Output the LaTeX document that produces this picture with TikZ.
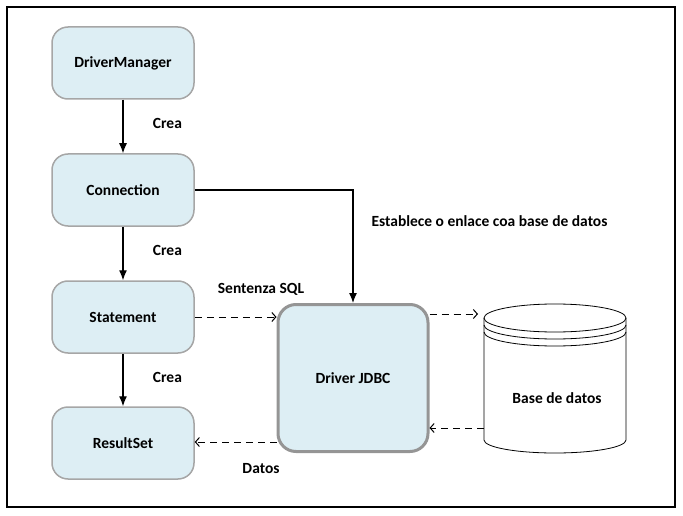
\documentclass[tikz,border=0pt]{standalone}
\usepackage{fontspec}
\setmainfont{Carlito}
\usetikzlibrary{shapes,arrows,arrows.meta}
\usetikzlibrary{positioning}
\definecolor{boxfill}{HTML}{DDEEF4}
\definecolor{boxline}{HTML}{A6A6A6}
\tikzset{
	>=latex,
	classbox/.style={draw=boxline, line width=1.5pt, fill=boxfill, rounded corners=16pt, minimum width=142pt, minimum height=72pt, font=\bfseries\fontsize{15.5}{18}\selectfont},
	driverbox/.style={draw=boxline!90!black, line width=3pt, fill=boxfill, rounded corners=18pt, minimum width=150pt, minimum height=147pt, font=\bfseries\fontsize{15.5}{18}\selectfont},
	lbl/.style={font=\bfseries\fontsize{15.5}{18}\selectfont},
	creates/.style={-{Latex[length=10pt,width=8pt]}, line width=1.2pt},
	dataflow/.style={-{Straight Barb[length=4pt,width=9pt]}, dash pattern=on 7pt off 5pt, line width=1pt}
}
\begin{document}
\begin{tikzpicture}[x=1pt, y=-1pt]
	\useasboundingbox (0,0) rectangle (683,516);
	\draw [line width=1.2pt] (7,7) rectangle (675,507);
	\node [classbox] (dm) at (123,63) {DriverManager};
	\node [classbox] (con) at (123,190) {Connection};
	\node [classbox] (stm) at (123,317) {Statement};
	\node [classbox] (rs) at (123,443) {ResultSet};
	\node [driverbox] (drv) at (353,378) {Driver JDBC};
	% base de datos
	\node [minimum width=142pt, minimum height=150pt] (db) at (555,378) {};
	\draw [line width=0.8pt] (484,318) -- (484,440) arc (180:0:71 and 13) -- (626,318);
	\draw [line width=0.8pt] (555,318) ellipse (71 and 14);
	\draw [line width=0.8pt] (484,325) arc (180:0:71 and 14);
	\draw [line width=0.8pt] (484,332) arc (180:0:71 and 14);
	\node [lbl] (dbtext) at (557,398) {Base de datos};
	\draw [creates] (dm) -- (con) node [lbl, pos=0.45, right=26pt] {Crea};
	\draw [creates] (con) -- (stm) node [lbl, pos=0.45, right=26pt] {Crea};
	\draw [creates] (stm) -- (rs) node [lbl, pos=0.45, right=26pt] {Crea};
	\draw [creates] (con.east) -| (drv.north);
	\node [lbl, anchor=west] (est) at (368,221) {Establece o enlace coa base de datos};
	\draw [dataflow] (stm.east) -- (stm.east -| drv.west);
	\node [lbl] (sql) at (261,289) {Sentenza SQL};
	\draw [dataflow] (drv.east |- 0,314) -- (478,314);
	\draw [dataflow] (db.west |- 0,428) -- (drv.east |- 0,428);
	\draw [dataflow] (drv.west |- 0,442) -- (rs.east |- 0,442);
	\node [lbl] (dat) at (261,469) {Datos};
\end{tikzpicture}
\end{document}
